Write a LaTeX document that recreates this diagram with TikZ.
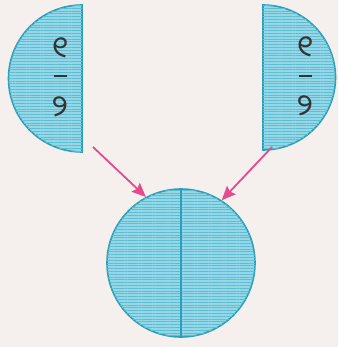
\documentclass[tikz,border=0pt]{standalone}
\usepackage{fontspec}
\usepackage{tikz}
\usetikzlibrary{arrows.meta,patterns.meta}
\newfontfamily\odiafont[Script=Oriya]{Noto Sans Oriya UI}
\definecolor{paper}{HTML}{F5F0EE}
\definecolor{sky}{HTML}{95D7E6}
\definecolor{skyline}{HTML}{5BBED4}
\definecolor{rim}{HTML}{2A9FB6}
\definecolor{rose}{HTML}{E24C8C}
\definecolor{ink}{HTML}{333333}

\begin{document}
\begin{tikzpicture}[x=1pt,y=-1pt,
  part/.style={draw=rim,line width=1.6pt,fill=sky,postaction={pattern={Lines[angle=0,distance=2.8pt,line width=0.7pt]},pattern color=skyline}},
  digit/.style={text=ink,font=\odiafont\fontsize{30}{32}\selectfont,inner sep=0pt},
  bar/.style={rectangle,fill=ink,minimum width=13pt,minimum height=1.2pt,inner sep=0pt},
  pointer/.style={-{Stealth[length=14pt,width=12pt,inset=2pt]},rose,line width=1.8pt}]
\fill[paper] (0,0) rectangle (338,347);
\useasboundingbox (0,0) rectangle (338,347);
\path[part] (82,5) arc[start angle=270,end angle=90,radius=73.5] -- cycle;
\path[part] (263,5) arc[start angle=270,end angle=450,radius=72.5] -- cycle;
\node[digit] (lnum) at (60,49) {୧};
\node[bar] (lbar) at (60,76) {};
\node[digit] (lden) at (60,108) {୨};
\node[digit] (rnum) at (305,48) {୧};
\node[bar] (rbar) at (305,76) {};
\node[digit] (rden) at (305,107) {୨};
\node[part,circle,minimum size=148pt,inner sep=0pt] (whole) at (181,263) {};
\draw[rim,line width=1.6pt] (whole.north) -- (whole.south);
\coordinate (ltail) at (93,147);
\coordinate (rtail) at (272,147);
\draw[pointer] (ltail) -- (whole.118);
\draw[pointer] (rtail) -- (whole.57);
\end{tikzpicture}
\end{document}
